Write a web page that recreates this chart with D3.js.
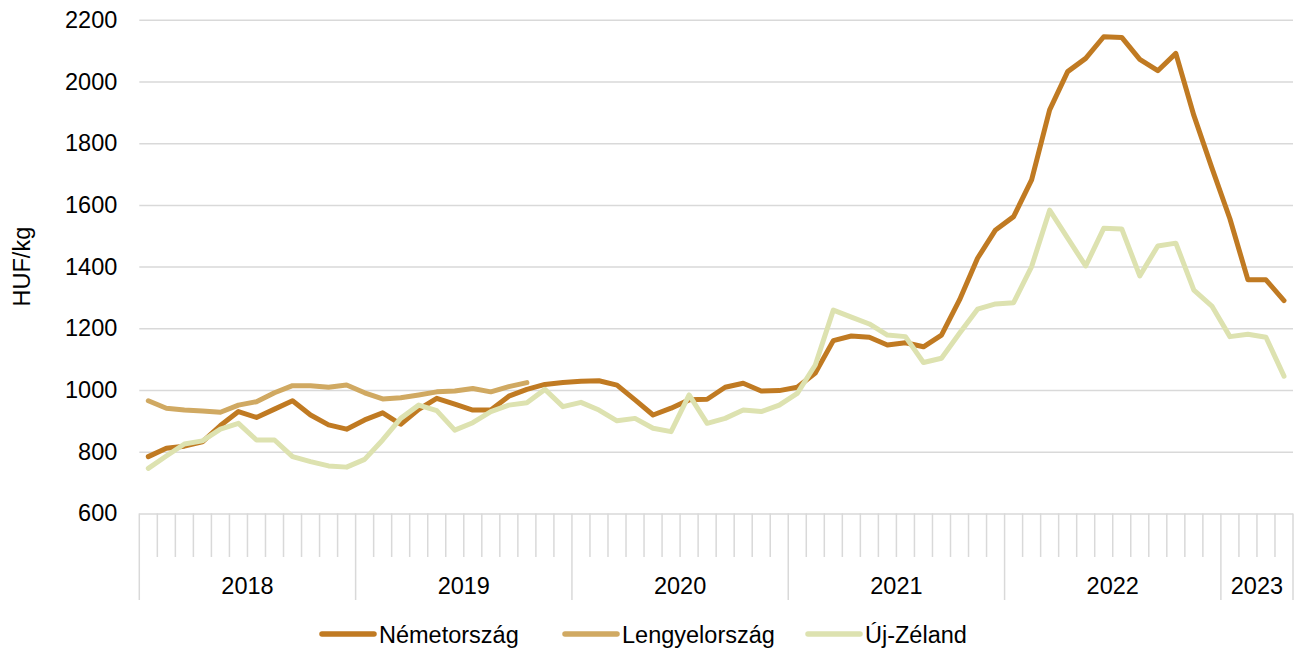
<!DOCTYPE html>
<html>
<head>
<meta charset="utf-8">
<script src="https://cdn.jsdelivr.net/npm/d3@7"></script>
<style>
  body { margin: 0; background: #fff; }
  svg { font-family: "Liberation Sans", Arial, sans-serif; }
</style>
</head>
<body>
<div id="chart"></div>
<script>
// categories
var years = ["2018", "2019", "2020", "2021", "2022", "2023"];
var monthsInYear = [12, 12, 12, 12, 12, 4];
var yTicks = [600, 800, 1000, 1200, 1400, 1600, 1800, 2000, 2200];

// series values (HUF/kg), monthly from 2018 Jan
var nemetorszag = [784, 811, 818, 832, 885, 930, 911, 938, 965, 919, 887, 873,
  903, 926, 889, 937, 973, 954, 935, 935, 980, 1002, 1018, 1024,
  1028, 1030, 1016, 968, 919, 941, 968, 970, 1009, 1022, 997, 998,
  1009, 1055, 1160, 1175, 1171, 1146, 1153, 1140, 1178, 1292, 1427, 1519,
  1562, 1681, 1908, 2032, 2075, 2145, 2143, 2072, 2035, 2091, 1890, 1720,
  1555, 1357, 1357, 1290];
var lengyelorszag = [965, 941, 935, 932, 928, 951, 962, 991, 1014, 1014, 1009, 1016,
  991, 971, 975, 984, 994, 997, 1005, 994, 1011, 1024];
var ujZeland = [746, 786, 825, 835, 873, 892, 838, 838, 784, 768, 754, 750,
  775, 838, 908, 951, 933, 870, 894, 930, 951, 959, 1002, 946,
  960, 935, 900, 908, 876, 865, 984, 892, 908, 935, 930, 951,
  989, 1081, 1259, 1236, 1214, 1178, 1173, 1089, 1103, 1184, 1262, 1279,
  1283, 1400, 1583, 1492, 1402, 1524, 1522, 1370, 1467, 1476, 1324, 1272,
  1173, 1181, 1171, 1045];

var seriesNames = ["Németország", "Lengyelország", "Új-Zéland"];
var seriesColors = ["#c07a22", "#d0a962", "#dde2b0"];

var months = [];
years.forEach(function(yr, i) {
  for (var m = 1; m <= monthsInYear[i]; m++) months.push(yr + "-" + m);
});

var series = [nemetorszag, lengyelorszag, ujZeland].map(function(vals, i) {
  return { name: seriesNames[i], color: seriesColors[i],
    values: vals.map(function(v, j) { return { m: months[j], v: v }; }) };
});

var W = 1299, H = 650;
var plotLeft = 139.3, plotRight = 1293, plotTop = 19.8, plotBottom = 513.4;
var fontSize = 23.5;

var svg = d3.select("#chart").append("svg")
  .attr("width", W).attr("height", H);

var x = d3.scaleBand().domain(months).range([plotLeft, plotRight]);
var y = d3.scaleLinear().domain([600, 2200]).range([plotBottom, plotTop]);

// gridlines + y labels
var yAxis = svg.append("g")
  .attr("transform", "translate(" + plotLeft + ",0)")
  .call(d3.axisLeft(y).tickValues(yTicks).tickFormat(d3.format("d"))
    .tickSize(-(plotRight - plotLeft)).tickPadding(22));
yAxis.select(".domain").remove();
yAxis.selectAll(".tick line").attr("stroke", "#d9d9d9").attr("stroke-width", 1.5);
yAxis.selectAll(".tick text").attr("font-size", fontSize).attr("fill", "#000")
  .attr("font-family", "Liberation Sans, Arial, sans-serif");

svg.append("text")
  .attr("transform", "translate(30," + ((plotTop + plotBottom) / 2) + ") rotate(-90)")
  .attr("text-anchor", "middle")
  .attr("font-size", fontSize)
  .text("HUF/kg");

// x axis: month ticks and year separators
var xa = svg.append("g");
months.forEach(function(m) {
  var isYearStart = m.split("-")[1] === "1";
  xa.append("line")
    .attr("x1", x(m)).attr("x2", x(m))
    .attr("y1", plotBottom).attr("y2", isYearStart ? 600 : 557)
    .attr("stroke", "#d9d9d9").attr("stroke-width", 1.5);
});
xa.append("line")
  .attr("x1", plotRight).attr("x2", plotRight).attr("y1", plotBottom).attr("y2", 600)
  .attr("stroke", "#d9d9d9").attr("stroke-width", 1.5);

years.forEach(function(yr, i) {
  var first = x(yr + "-1");
  var last = x(yr + "-" + monthsInYear[i]) + x.bandwidth();
  xa.append("text")
    .attr("x", (first + last) / 2).attr("y", 594)
    .attr("text-anchor", "middle")
    .attr("font-size", fontSize)
    .text(yr);
});

// lines (later series drawn on top)
var line = d3.line()
  .x(function(d) { return x(d.m) + x.bandwidth() / 2; })
  .y(function(d) { return y(d.v); });

series.forEach(function(s) {
  svg.append("path")
    .datum(s.values)
    .attr("fill", "none")
    .attr("stroke", s.color)
    .attr("stroke-width", 5)
    .attr("stroke-linejoin", "round")
    .attr("stroke-linecap", "round")
    .attr("d", line);
});

// legend
var legendX = [322, 565, 808];
series.forEach(function(s, i) {
  var g = svg.append("g").attr("transform", "translate(" + legendX[i] + ",634)");
  g.append("line").attr("x1", 0).attr("x2", 52).attr("y1", 0).attr("y2", 0)
    .attr("stroke", s.color).attr("stroke-width", 5.5).attr("stroke-linecap", "round");
  g.append("text").attr("x", 57).attr("y", 8.5)
    .attr("font-size", fontSize).text(s.name);
});
</script>
</body>
</html>
